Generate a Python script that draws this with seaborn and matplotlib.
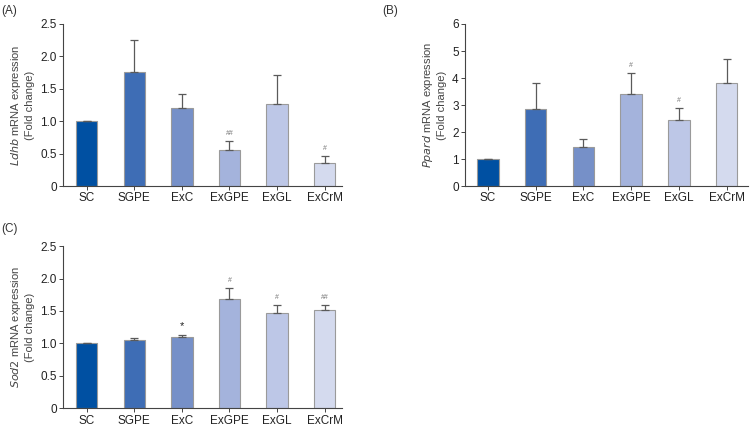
import pandas as pd
import matplotlib
matplotlib.use("Agg")
import matplotlib.pyplot as plt
import seaborn as sns

sns.set_theme(style="ticks")
plt.rcParams['font.family'] = ['Liberation Sans', 'DejaVu Sans']

groups = ["SC", "SGPE", "ExC", "ExGPE", "ExGL", "ExCrM"]
colors = ["#0050A2", "#3E6DB5", "#7690C8", "#A4B3DC", "#BDC7E7", "#D4DAEE"]

# panel A - Ldhb
ldhb_mean = [1.0, 1.76, 1.21, 0.55, 1.26, 0.35]
ldhb_err = [0.0, 0.50, 0.21, 0.14, 0.46, 0.11]
ldhb_marks = ["", "", "", "##", "", "#"]

# panel B - Ppard
ppard_mean = [1.0, 2.87, 1.45, 3.40, 2.43, 3.83]
ppard_err = [0.0, 0.95, 0.28, 0.77, 0.45, 0.88]
ppard_marks = ["", "", "", "#", "#", ""]

# panel C - Sod2
sod2_mean = [1.0, 1.05, 1.10, 1.69, 1.47, 1.52]
sod2_err = [0.0, 0.03, 0.03, 0.16, 0.12, 0.07]
sod2_marks = ["", "", "*", "#", "#", "##"]

fig = plt.figure(figsize=(7.53, 4.28), dpi=100)


def draw_panel(rect, gene, mean, err, marks, ymax, yticks, yticklabels, xlim):
    ax = fig.add_axes(rect)
    df = pd.DataFrame({"group": groups, "value": mean})
    sns.barplot(data=df, x="group", y="value", hue="group", palette=colors,
                saturation=1, legend=False, width=0.45, edgecolor="#9a9a9a",
                linewidth=0.8, ax=ax)
    ax.errorbar(range(len(groups)), mean, yerr=[[0] * len(err), err], fmt="none",
                ecolor="#5a5a5a", elinewidth=0.9, capsize=3, capthick=0.9)
    for i, m in enumerate(marks):
        if not m:
            continue
        top = mean[i] + err[i] + ymax * 0.025
        if m == "*":
            ax.text(i, top, m, ha="center", va="bottom", fontsize=8, color="#222222")
        else:
            ax.text(i, top, m, ha="center", va="bottom", fontsize=5, color="#777777")
    ax.set_ylim(0, ymax)
    ax.set_yticks(yticks)
    ax.set_yticklabels(yticklabels)
    ax.set_xlim(*xlim)
    ax.set_xlabel("")
    ax.set_ylabel("$\\it{" + gene + "}$ mRNA expression\n(Fold change)",
                  fontsize=8, color="#444444", labelpad=4)
    for s in ["top", "right"]:
        ax.spines[s].set_visible(False)
    for s in ["left", "bottom"]:
        ax.spines[s].set_color("#444444")
        ax.spines[s].set_linewidth(0.8)
    ax.tick_params(axis="both", labelsize=8.5, colors="#444444", length=3, width=0.7,
                   labelcolor="#222222", pad=1.5)
    return ax


draw_panel([0.0837, 0.565, 0.370, 0.379], "Ldhb", ldhb_mean, ldhb_err, ldhb_marks,
           2.5, [0, 0.5, 1.0, 1.5, 2.0, 2.5], ["0", "0.5", "1.0", "1.5", "2.0", "2.5"],
           (-0.5, 5.36))
draw_panel([0.6175, 0.565, 0.3755, 0.379], "Ppard", ppard_mean, ppard_err, ppard_marks,
           6, [0, 1, 2, 3, 4, 5, 6], ["0", "1", "2", "3", "4", "5", "6"],
           (-0.48, 5.44))
draw_panel([0.0837, 0.046, 0.370, 0.379], "Sod2", sod2_mean, sod2_err, sod2_marks,
           2.5, [0, 0.5, 1.0, 1.5, 2.0, 2.5], ["0", "0.5", "1.0", "1.5", "2.0", "2.5"],
           (-0.5, 5.36))

fig.text(0.001, 0.975, "(A)", fontsize=8.5, color="#333333", va="center")
fig.text(0.508, 0.975, "(B)", fontsize=8.5, color="#333333", va="center")
fig.text(0.001, 0.465, "(C)", fontsize=8.5, color="#333333", va="center")

plt.savefig("out.png", dpi=100)
plt.close()
